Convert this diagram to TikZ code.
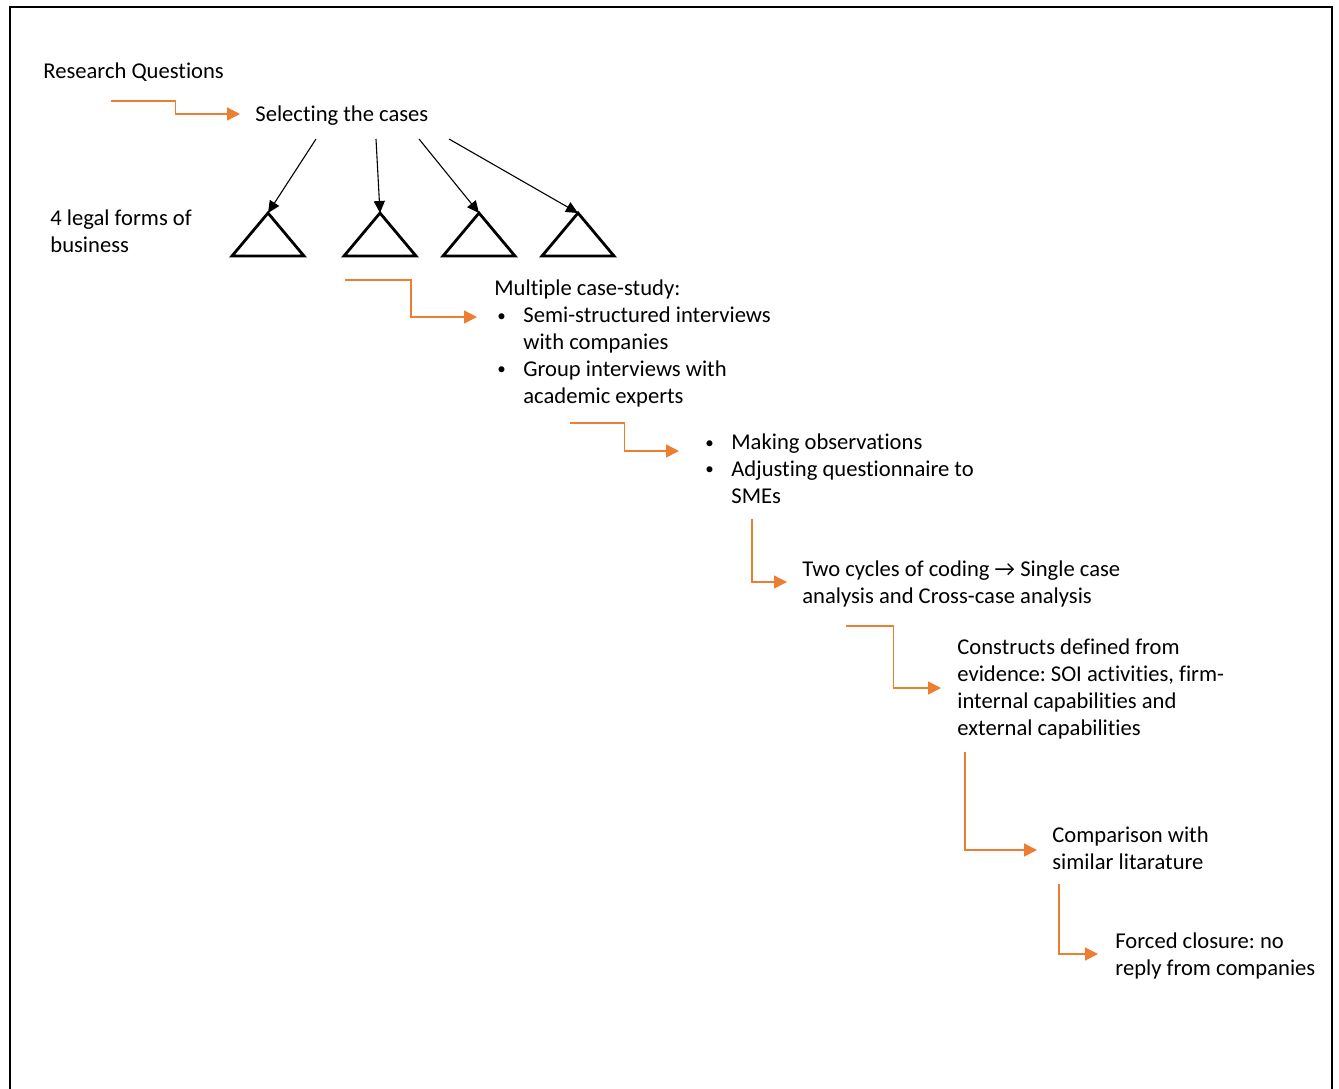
\documentclass[tikz,border=0pt]{standalone}
\usepackage{fontspec}
\setmainfont[Ligatures=NoCommon]{Carlito}
\usepackage{xcolor}
\definecolor{FlowOrange}{HTML}{ED7D31}
\usetikzlibrary{arrows.meta, calc, positioning}
\newcommand{\listdot}{\makebox[14.5pt][l]{\hspace{1.5pt}\raisebox{0.6pt}{\scalebox{0.75}{\textbullet}}}}
\newcommand{\listgap}{\hspace*{14.5pt}}
\frenchspacing

\begin{document}
\begin{tikzpicture}[x=0.5pt, y=-0.5pt,
    txt/.style={inner sep=0pt, anchor=base west, align=left,
      font=\fontsize{11.3}{13.45}\selectfont},
    flow/.style={draw=FlowOrange, line width=0.7pt,
      -{Triangle[length=6.5pt, width=6.5pt]}},
    pick/.style={draw=black, line width=0.55pt,
      -{Triangle[length=6pt, width=5.5pt]}},
    legal/.style={draw=black, line width=1.4pt, line join=miter}
  ]
    \useasboundingbox (0,0) rectangle (1339,1088);
    \draw[line width=1.2pt] (10,1092) -- (10,7) -- (1332,7) -- (1332,1092);

    \node[txt] (rq) at (43,78) {Research Questions};
    \node[txt] (sel) at (255,121) {Selecting the cases};
    \node[txt] (forms) at (50,252) {4 legal forms of\\business};
    \node[txt] (mcs) at (494,403)
      {Multiple case-study:\\
       \listdot Semi-structured interviews\\
       \listgap with companies\\
       \listdot Group interviews with\\
       \listgap academic experts};
    \node[txt] (obs) at (702,503)
      {\listdot Making observations\\
       \listdot Adjusting questionnaire to\\
       \listgap SMEs};
    \node[txt] (code) at (802,603)
      {Two cycles of coding → Single case\\analysis and Cross-case analysis};
    \node[txt] (cons) at (957,735)
      {Constructs defined from\\evidence: SOI activities, firm-\\internal capabilities and\\external capabilities};
    \node[txt] (comp) at (1052,869) {Comparison with\\similar litarature};
    \node[txt] (close) at (1115,975) {Forced closure: no\\reply from companies};

    \foreach \x [count=\i] in {268,380,479,578} {
      \coordinate (tri\i) at (\x,213);
      \draw[legal] (tri\i) -- ++(36,43) -- ++(-72,0) -- cycle;
    }
    \foreach \dx/\i in {61/1, 121/2, 164/3, 194/4}
      \draw[pick] ($(sel.base west)+(\dx,18)$) -- (tri\i);

    \coordinate (rq out) at (111,101);
    \coordinate (tri out) at (345,280);
    \coordinate (mcs out) at (570,423);
    \coordinate (obs out) at (752,519);
    \coordinate (code out) at (846,626);
    \coordinate (cons out) at (965,752);
    \coordinate (comp out) at (1059,884);

    \coordinate (sel in) at ($(sel.base west)+(-15,-7)$);
    \coordinate (mcs in) at ($(mcs.base west)+(-17,-86)$);
    \coordinate (obs in) at ($(obs.base west)+(-23,-52)$);
    \coordinate (code in) at ($(code.base west)+(-15,-21)$);
    \coordinate (cons in) at ($(cons.base west)+(-16,-47)$);
    \coordinate (comp in) at ($(comp.base west)+(-15,-19)$);
    \coordinate (close in) at ($(close.base west)+(-17,-21)$);

    \draw[flow] (rq out) -| ($(rq out)!.5!(sel in)$) |- (sel in);
    \draw[flow] (tri out) -| ($(tri out)!.5!(mcs in)$) |- (mcs in);
    \draw[flow] (mcs out) -| ($(mcs out)!.5!(obs in)$) |- (obs in);
    \draw[flow] (obs out) |- (code in);
    \draw[flow] (code out) -| ($(code out)!.5!(cons in)$) |- (cons in);
    \draw[flow] (cons out) |- (comp in);
    \draw[flow] (comp out) |- (close in);
  \end{tikzpicture}
\end{document}
